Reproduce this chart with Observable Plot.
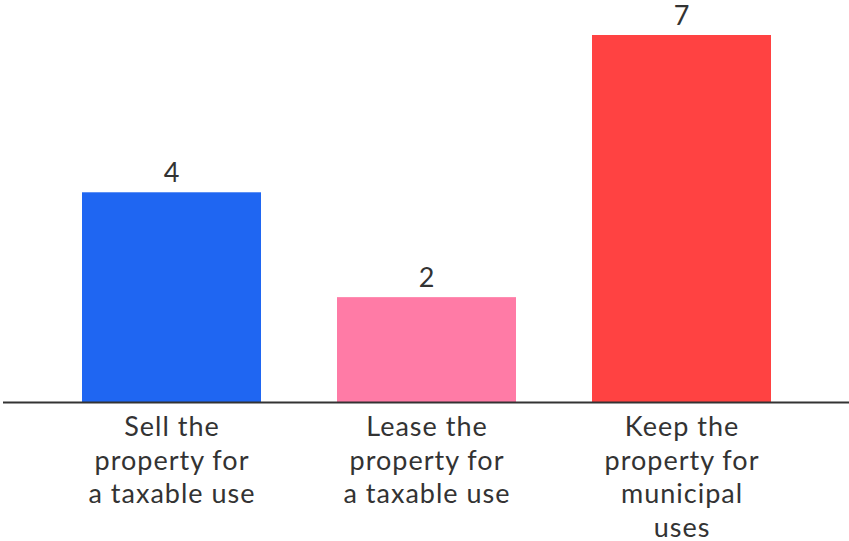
<!DOCTYPE html>
<html>
<head>
<meta charset="utf-8">
<script src="https://cdn.jsdelivr.net/npm/d3@7"></script>
<script src="https://cdn.jsdelivr.net/npm/@observablehq/plot@0.6"></script>
<style>
  html, body { margin: 0; padding: 0; background: #fff; }
  #chart svg { display: block; }
</style>
</head>
<body>
<div id="chart"></div>
<script>
const categories = [
  "Sell the\nproperty for\na taxable use",
  "Lease the\nproperty for\na taxable use",
  "Keep the\nproperty for\nmunicipal\nuses"
];
const values = [4, 2, 7];
const barColors = ["#1f66f2", "#ff7ba6", "#ff4242"];

const data = categories.map((c, i) => ({category: c, value: values[i]}));

const chart = Plot.plot({
  width: 849,
  height: 541,
  marginLeft: 3,
  marginRight: 0,
  marginTop: 35,
  marginBottom: 139,
  style: {fontFamily: "Lato, sans-serif", background: "#fff", letterSpacing: "1px"},
  x: {domain: categories, paddingInner: 0.3, paddingOuter: 0.305, label: null},
  y: {domain: [0, 7], axis: null},
  color: {domain: categories, range: barColors},
  marks: [
    Plot.barY(data, {x: "category", y: "value", fill: "category"}),
    Plot.ruleY([0], {stroke: "#333", strokeWidth: 2}),
    Plot.text(data, {x: "category", y: "value", text: d => String(d.value), dy: -19, fontSize: 27, fill: "#333"}),
    Plot.axisX({tickSize: 0, tickPadding: 10, fontSize: 27, lineHeight: 1.24, fill: "#333", label: null})
  ]
});
document.getElementById("chart").appendChild(chart);
</script>
</body>
</html>
